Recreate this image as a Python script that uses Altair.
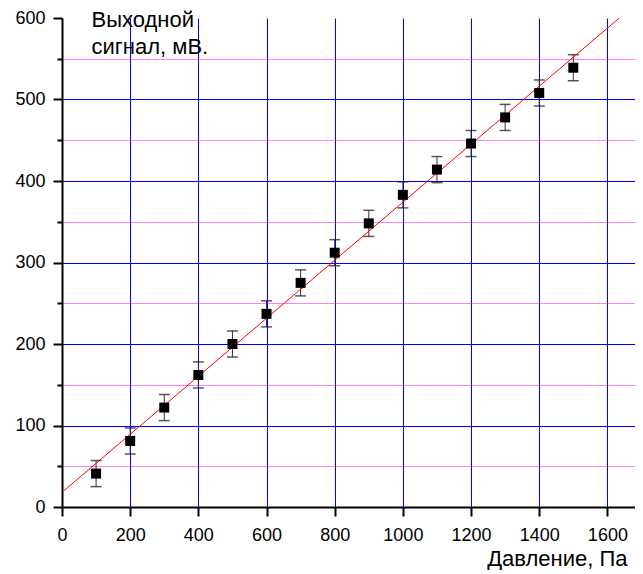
import altair as alt
import pandas as pd

# Data
pressure = [100, 200, 300, 400, 500, 600, 700, 800, 900, 1000, 1100, 1200, 1300, 1400, 1500]
signal = [41, 81, 122, 162, 200, 237, 275, 312, 348, 383, 414, 446, 478, 508, 539]
error = [16, 16, 16, 16, 16, 16, 16, 16, 16, 16, 16, 16, 16, 16, 16]

fit_x = [0, 1635]
fit_y = [18, 600]

x_ticks = list(range(0, 1700, 100))
y_ticks = list(range(0, 650, 50))

x_title = "Давление, Па"
y_title = ["Выходной", "сигнал, мВ."]

df = pd.DataFrame({"p": pressure, "s": signal, "e": error})
fit_df = pd.DataFrame({"p": fit_x, "s": fit_y})

FONT = "Liberation Sans"

x_scale = alt.Scale(domain=[0, 1681], nice=False, zero=False)
y_scale = alt.Scale(domain=[0, 600], nice=False, zero=False)

x_axis = alt.Axis(
    values=x_ticks,
    format="d",
    labelExpr="datum.value % 200 === 0 ? datum.label : ''",
    labelFlush=False,
    labelOverlap=False,
    labelFont=FONT,
    labelFontSize=18,
    labelColor="black",
    labelPadding=10,
    tickColor="black",
    tickWidth=2,
    tickSize={"condition": {"test": "datum.value % 200 === 0", "value": 9}, "value": 5},
    domainColor="black",
    domainWidth=2,
    grid=True,
    gridColor={"condition": {"test": "datum.value % 200 === 0", "value": "#0000FF"}, "value": "#FF00FF"},
    gridDash={"condition": {"test": "datum.value % 200 === 0", "value": []}, "value": [1, 1]},
    gridOpacity={"condition": {"test": "datum.value === 0", "value": 0}, "value": 1},
    gridWidth=1,
    title=x_title,
    titleFont=FONT,
    titleFontSize=22,
    titleFontWeight="normal",
    titleColor="black",
    titleAlign="right",
    titleBaseline="alphabetic",
    titleAngle=0,
    titleX=565,
    titleY=58,
)

y_axis = alt.Axis(
    values=y_ticks,
    format="d",
    labelExpr="datum.value % 100 === 0 ? datum.label : ''",
    labelOverlap=False,
    labelFlush=False,
    labelFont=FONT,
    labelFontSize=18,
    labelColor="black",
    labelPadding=8,
    tickColor="black",
    tickWidth=2,
    tickSize={"condition": {"test": "datum.value % 100 === 0", "value": 9}, "value": 5},
    domainColor="black",
    domainWidth=2,
    grid=True,
    gridColor={"condition": {"test": "datum.value % 100 === 0", "value": "#0000FF"}, "value": "#FF00FF"},
    gridDash={"condition": {"test": "datum.value % 100 === 0", "value": []}, "value": [1, 1]},
    gridOpacity={"condition": {"test": "datum.value === 0 || datum.value >= 600", "value": 0}, "value": 1},
    gridWidth=1,
    title=y_title,
    titleFont=FONT,
    titleFontSize=22,
    titleFontWeight="normal",
    titleColor="black",
    titleAngle=0,
    titleAlign="left",
    titleBaseline="alphabetic",
    titleLineHeight=27,
    titleX=29,
    titleY=8,
)

base = alt.Chart(df).transform_calculate(
    lo="datum.s - datum.e", hi="datum.s + datum.e"
)

fit = alt.Chart(fit_df).mark_line(color="#FF0000", strokeWidth=1, clip=True).encode(
    x=alt.X("p:Q", scale=x_scale, axis=x_axis),
    y=alt.Y("s:Q", scale=y_scale, axis=y_axis),
)

bars = base.mark_rule(color="#333333", strokeWidth=1).encode(
    x="p:Q", y="lo:Q", y2="hi:Q"
)
cap_lo = base.mark_tick(color="#111111", orient="horizontal", size=11, thickness=1.5).encode(
    x="p:Q", y="lo:Q"
)
cap_hi = base.mark_tick(color="#111111", orient="horizontal", size=11, thickness=1.5).encode(
    x="p:Q", y="hi:Q"
)
pts = base.mark_square(color="black", size=100, opacity=1, filled=True).encode(
    x="p:Q", y="s:Q"
)

chart = alt.layer(bars, cap_lo, cap_hi, fit, pts).properties(
    width=573,
    height=489,
    autosize=alt.AutoSizeParams(type="none"),
    padding={"left": 54, "top": 10, "right": 0, "bottom": 63},
).configure(
    font=FONT,
).configure_view(
    stroke=None,
)

chart.save("out.html", embed_options={"renderer": "svg", "actions": False})
